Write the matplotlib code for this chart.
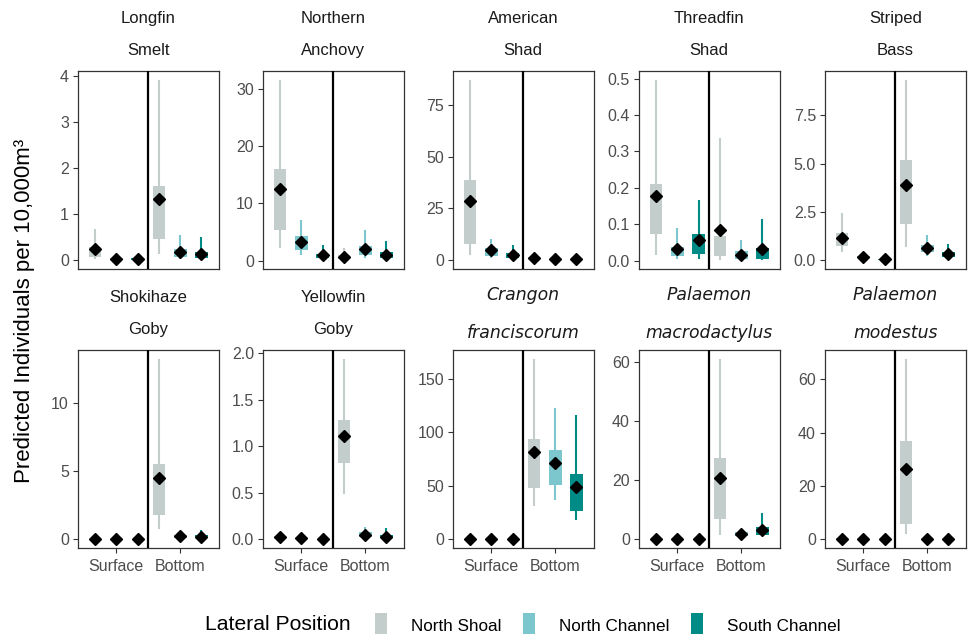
import matplotlib
matplotlib.use("Agg")
import matplotlib.pyplot as plt
from matplotlib.patches import Patch

plt.rcParams['font.family'] = ['Liberation Sans', 'DejaVu Sans']

# facet labels (last three are scientific names, shown in italics)
species = ['Longfin Smelt', 'Northern Anchovy', 'American Shad', 'Threadfin Shad', 'Striped Bass',
           'Shokihaze Goby', 'Yellowfin Goby', 'Crangon franciscorum', 'Palaemon macrodactylus',
           'Palaemon modestus']
italic = [False, False, False, False, False, False, False, True, True, True]
depths = ['Surface', 'Bottom']
positions = ['North Shoal', 'North Channel', 'South Channel']
colors = ['#C3CDCC', '#7CC6CE', '#008B87']

# each row: Surface (NS, NC, SC), Bottom (NS, NC, SC)
means = [
    [0.25, 0.04, 0.035, 1.33, 0.18, 0.15],
    [12.5, 3.2, 0.9, 0.6, 2.0, 1.0],
    [28.4, 4.7, 2.6, 1.1, 0.4, 0.3],
    [0.177, 0.032, 0.057, 0.083, 0.017, 0.031],
    [1.15, 0.17, 0.05, 3.9, 0.64, 0.31],
    [0.02, 0.01, 0.01, 4.48, 0.22, 0.2],
    [0.028, 0.011, 0.004, 1.11, 0.05, 0.028],
    [0.2, 0.2, 0.2, 81.2, 71.0, 48.7],
    [0.05, 0.04, 0.04, 20.7, 1.8, 3.25],
    [0.25, 0.1, 0.1, 26.3, 0.1, 0.1],
]
box_lo = [
    [0.08, 0.02, 0.02, 0.47, 0.08, 0.06],
    [5.4, 1.8, 0.5, 0.2, 0.9, 0.4],
    [7.9, 1.9, 1.1, 0.5, 0.2, 0.1],
    [0.072, 0.012, 0.018, 0.013, 0.005, 0.005],
    [0.72, 0.1, 0.03, 1.89, 0.43, 0.17],
    [0.01, 0.005, 0.005, 1.75, 0.1, 0.08],
    [0.015, 0.005, 0.002, 0.822, 0.025, 0.01],
    [0.1, 0.1, 0.1, 48.3, 50.8, 26.6],
    [0.02, 0.02, 0.02, 6.9, 1.0, 1.6],
    [0.1, 0.05, 0.05, 5.7, 0.05, 0.05],
]
box_hi = [
    [0.29, 0.06, 0.05, 1.61, 0.24, 0.19],
    [16.0, 4.3, 1.2, 1.0, 2.5, 1.5],
    [38.9, 5.9, 3.5, 1.6, 0.6, 0.4],
    [0.212, 0.039, 0.073, 0.068, 0.027, 0.034],
    [1.41, 0.24, 0.08, 5.18, 0.77, 0.41],
    [0.04, 0.02, 0.02, 5.5, 0.34, 0.34],
    [0.04, 0.018, 0.007, 1.278, 0.075, 0.05],
    [0.4, 0.4, 0.4, 94.2, 83.4, 61.0],
    [0.1, 0.08, 0.08, 27.5, 2.35, 4.1],
    [0.4, 0.15, 0.15, 36.9, 0.15, 0.15],
]
line_lo = [
    [0.03, 0.01, 0.01, 0.13, 0.03, 0.02],
    [2.2, 0.9, 0.3, 0.1, 0.5, 0.3],
    [2.7, 1.1, 0.6, 0.2, 0.1, 0.05],
    [0.017, 0.005, 0.006, 0.003, 0.002, 0.003],
    [0.41, 0.05, 0.01, 0.69, 0.2, 0.12],
    [0.0, 0.0, 0.0, 0.78, 0.02, 0.02],
    [0.005, 0.002, 0.001, 0.488, 0.005, 0.003],
    [0.0, 0.0, 0.0, 31.3, 36.3, 18.3],
    [0.0, 0.0, 0.0, 1.34, 0.8, 1.0],
    [0.02, 0.01, 0.01, 2.1, 0.01, 0.01],
]
line_hi = [
    [0.67, 0.08, 0.07, 3.91, 0.55, 0.50],
    [31.6, 7.1, 2.7, 2.2, 5.3, 3.5],
    [87.4, 10.0, 7.5, 2.5, 0.9, 0.6],
    [0.497, 0.090, 0.166, 0.338, 0.056, 0.114],
    [2.44, 0.35, 0.15, 9.35, 1.30, 0.84],
    [0.08, 0.05, 0.04, 13.24, 0.46, 0.66],
    [0.06, 0.03, 0.012, 1.936, 0.13, 0.12],
    [0.9, 0.8, 0.8, 168.6, 123.0, 115.9],
    [0.2, 0.15, 0.15, 60.9, 2.7, 8.8],
    [0.8, 0.3, 0.3, 67.6, 0.3, 0.3],
]
yticks = [
    [0, 1, 2, 3, 4],
    [0, 10, 20, 30],
    [0, 25, 50, 75],
    [0, 0.1, 0.2, 0.3, 0.4, 0.5],
    [0, 2.5, 5, 7.5],
    [0, 5, 10],
    [0, 0.5, 1, 1.5, 2],
    [0, 50, 100, 150],
    [0, 20, 40, 60],
    [0, 20, 40, 60],
]


def fmt_ticks(ticks):
    dec = 0
    for t in ticks:
        s = repr(float(t)).rstrip('0').rstrip('.')
        if '.' in s:
            dec = max(dec, len(s.split('.')[1]))
    return [f'{t:.{dec}f}' for t in ticks]


W, H = 968, 634
fig = plt.figure(figsize=(W / 100, H / 100), dpi=100)

col_left = [78, 263, 453, 639, 825]
row_top = [70.7, 350]
pw, ph = 140.5, 198.3

for i, name in enumerate(species):
    r, c = divmod(i, 5)
    ax = fig.add_axes([col_left[c] / W, 1 - (row_top[r] + ph) / H, pw / W, ph / H])

    xs, cols = [], []
    for d in range(2):
        for p in range(3):
            xs.append(d + 1 + (p - 1) / 3)
            cols.append(colors[p])

    ax.vlines(xs, line_lo[i], line_hi[i], colors=cols, lw=1.5, zorder=2)
    ax.bar(xs, [h - l for h, l in zip(box_hi[i], box_lo[i])], bottom=box_lo[i],
           width=0.2, color=cols, lw=0, zorder=3)
    ax.plot(xs, means[i], 'D', color='black', ms=6, ls='none', zorder=4)
    ax.axvline(1.5, color='black', lw=1.6, zorder=5)

    lo = min(line_lo[i] + box_lo[i] + means[i])
    hi = max(line_hi[i] + box_hi[i] + means[i])
    pad = 0.05 * (hi - lo)
    ax.set_ylim(lo - pad, hi + pad)
    ax.set_xlim(0.4, 2.6)

    ax.set_yticks(yticks[i])
    ax.set_yticklabels(fmt_ticks(yticks[i]))
    ax.set_xticks([1, 2])
    if r == 1:
        ax.set_xticklabels(depths)
    else:
        ax.tick_params(axis='x', bottom=False, labelbottom=False)

    ax.tick_params(colors='#333333', labelcolor='#4D4D4D', length=3.5, width=0.8,
                   labelsize=11.5, pad=3)
    ax.tick_params(axis='x', pad=4)
    for s in ax.spines.values():
        s.set_color('#333333')
        s.set_linewidth(0.9)

    if italic[i]:
        ax.annotate(name.replace(' ', '\n'), xy=(0.5, 1), xycoords='axes fraction',
                    xytext=(0, 26), textcoords='offset points', ha='center', va='center',
                    fontsize=12.4, linespacing=2.4, color='#1A1A1A',
                    family='DejaVu Sans', style='italic')
    else:
        ax.annotate(name.replace(' ', '\n'), xy=(0.5, 1), xycoords='axes fraction',
                    xytext=(0, 26), textcoords='offset points', ha='center', va='center',
                    fontsize=12, linespacing=2.4, color='#1A1A1A')

fig.text(25 / W, 1 - 311 / H, 'Predicted Individuals per 10,000m³', rotation=90,
         ha='center', va='center', fontsize=16)

fig.text(205 / W, 1 - 625 / H, 'Lateral Position', ha='left', va='center', fontsize=15.2)
handles = [Patch(facecolor=c, edgecolor='none') for c in colors]
fig.legend(handles, positions, loc='center left', bbox_to_anchor=(375 / W, 1 - 625 / H),
           ncol=3, frameon=False, fontsize=12.3, handlelength=0.72, handleheight=1.8,
           handletextpad=1.4, columnspacing=1.25, borderpad=0, borderaxespad=0)

fig.savefig('out.png', dpi=100)
